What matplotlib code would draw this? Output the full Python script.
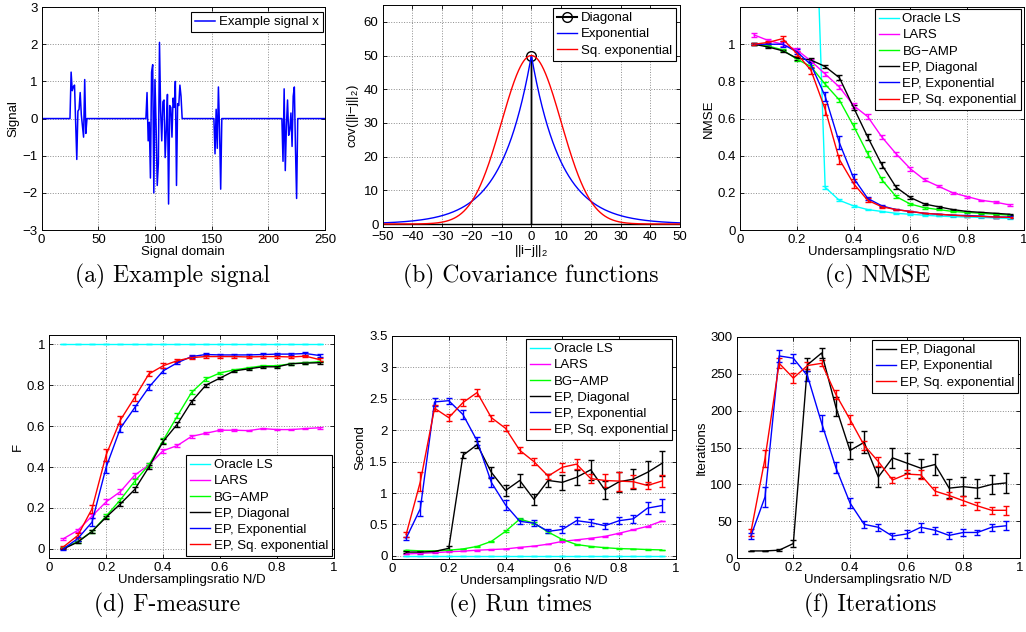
import numpy as np
import matplotlib
matplotlib.use('Agg')
import matplotlib.pyplot as plt
from matplotlib.ticker import FormatStrFormatter

plt.rcParams['font.family'] = ['Liberation Sans', 'DejaVu Sans']
plt.rcParams['font.size'] = 9.5
plt.rcParams['mathtext.fontset'] = 'custom'
plt.rcParams['mathtext.rm'] = 'Liberation Sans'
plt.rcParams['mathtext.it'] = 'Liberation Sans:italic'

# (a) example signal: nonzero blocks (start index, values)
sig_len = 250
blk_start = [26, 93, 153, 213]
blk_vals = [
    [1.25, 0.75, 0.85, 0.9, -0.1, -1.1, 0.2, 0.25, 0.7, 0.1, -0.2, -0.5, 1.05, -0.4],
    [0.7, -0.6, -0.1, -1.6, 1.25, 1.45, -2.0, 1.05, -0.2, -1.8, -1.2, 2.05, 0.2, -0.6,
     0.45, 0.5, -1.05, -0.3, 0.65, -2.3, 0.35, 0.3, -0.5, 0.55, 0.3, 1.0, -1.8, 0.4,
     0.35, 0.9, 0.6],
    [-0.95, 0.25, -0.8, 0.85, -0.3, -1.9],
    [-1.15, 0.8, -1.4, -0.2, 0.5, -0.45, -0.3, 0.15, -0.75, 0.6, 0.85, -0.8, -2.15],
]

# (b) covariance functions
cov_var = 50.0
cov_len = 10.0

# undersampling ratios
ratio = np.arange(1, 20) * 0.05

# (c) NMSE
nmse_oracle = [20, 12, 8, 5, 2.5, 0.23, 0.16, 0.13, 0.11, 0.10, 0.09, 0.085, 0.08, 0.075, 0.072, 0.07, 0.068, 0.065, 0.063]
nmse_lars = [1.05, 1.02, 1.0, 0.97, 0.91, 0.84, 0.77, 0.67, 0.61, 0.50, 0.41, 0.33, 0.27, 0.235, 0.20, 0.18, 0.16, 0.15, 0.135]
nmse_amp = [1.0, 0.99, 0.97, 0.92, 0.88, 0.785, 0.70, 0.56, 0.41, 0.27, 0.18, 0.14, 0.12, 0.11, 0.10, 0.095, 0.09, 0.085, 0.08]
nmse_diag = [1.0, 0.985, 0.965, 0.925, 0.915, 0.88, 0.82, 0.66, 0.50, 0.35, 0.23, 0.175, 0.14, 0.125, 0.11, 0.10, 0.095, 0.09, 0.085]
nmse_exp = [1.0, 1.0, 1.0, 0.96, 0.89, 0.72, 0.47, 0.28, 0.17, 0.13, 0.11, 0.10, 0.09, 0.085, 0.08, 0.078, 0.075, 0.07, 0.07]
nmse_sqe = [1.0, 1.01, 1.03, 0.95, 0.86, 0.65, 0.38, 0.25, 0.16, 0.125, 0.11, 0.10, 0.09, 0.085, 0.08, 0.075, 0.073, 0.07, 0.068]
nmse_oracle_err = [0, 0, 0, 0, 0, 0.008, 0.005, 0.004, 0.003, 0.003, 0.003, 0.003, 0.002, 0.002, 0.002, 0.002, 0.002, 0.002, 0.002]
nmse_lars_err = [0.01, 0.01, 0.01, 0.01, 0.01, 0.01, 0.01, 0.012, 0.012, 0.012, 0.012, 0.01, 0.008, 0.006, 0.005, 0.005, 0.004, 0.004, 0.004]
nmse_amp_err = [0.005, 0.005, 0.005, 0.008, 0.01, 0.01, 0.012, 0.014, 0.015, 0.014, 0.01, 0.006, 0.005, 0.004, 0.004, 0.003, 0.003, 0.003, 0.003]
nmse_diag_err = [0.005, 0.005, 0.005, 0.008, 0.01, 0.01, 0.012, 0.014, 0.015, 0.014, 0.01, 0.006, 0.005, 0.004, 0.004, 0.003, 0.003, 0.003, 0.003]
nmse_exp_err = [0.005, 0.008, 0.015, 0.015, 0.02, 0.025, 0.035, 0.02, 0.01, 0.006, 0.004, 0.003, 0.003, 0.003, 0.003, 0.003, 0.003, 0.003, 0.003]
nmse_sqe_err = [0.005, 0.01, 0.015, 0.015, 0.02, 0.03, 0.025, 0.025, 0.01, 0.006, 0.004, 0.003, 0.003, 0.003, 0.003, 0.003, 0.003, 0.003, 0.003]

# (d) F-measure
f_oracle = [1.0] * 19
f_lars = [0.05, 0.09, 0.16, 0.23, 0.28, 0.36, 0.41, 0.48, 0.505, 0.55, 0.565, 0.58, 0.58, 0.578, 0.588, 0.583, 0.583, 0.588, 0.592]
f_amp = [0.005, 0.035, 0.085, 0.16, 0.24, 0.33, 0.41, 0.53, 0.65, 0.765, 0.83, 0.86, 0.875, 0.885, 0.895, 0.895, 0.905, 0.91, 0.915]
f_diag = [0.0, 0.033, 0.085, 0.155, 0.22, 0.29, 0.40, 0.525, 0.61, 0.72, 0.80, 0.835, 0.87, 0.88, 0.89, 0.89, 0.905, 0.908, 0.91]
f_exp = [0.0, 0.05, 0.13, 0.40, 0.59, 0.69, 0.79, 0.87, 0.91, 0.94, 0.95, 0.948, 0.948, 0.948, 0.95, 0.952, 0.952, 0.955, 0.945]
f_sqe = [0.01, 0.065, 0.195, 0.46, 0.63, 0.74, 0.855, 0.895, 0.92, 0.935, 0.94, 0.94, 0.94, 0.938, 0.94, 0.94, 0.938, 0.942, 0.925]
f_oracle_err = [0] * 19
f_lars_err = [0.005, 0.008, 0.01, 0.012, 0.012, 0.012, 0.01, 0.01, 0.008, 0.006, 0.005, 0.004, 0.004, 0.004, 0.004, 0.004, 0.004, 0.004, 0.004]
f_amp_err = [0.003, 0.005, 0.006, 0.008, 0.01, 0.012, 0.012, 0.012, 0.012, 0.01, 0.008, 0.006, 0.005, 0.004, 0.004, 0.004, 0.004, 0.004, 0.004]
f_diag_err = [0.003, 0.005, 0.006, 0.008, 0.01, 0.012, 0.012, 0.012, 0.012, 0.01, 0.008, 0.006, 0.005, 0.004, 0.004, 0.004, 0.004, 0.004, 0.004]
f_exp_err = [0.004, 0.01, 0.02, 0.03, 0.02, 0.015, 0.015, 0.012, 0.008, 0.006, 0.006, 0.005, 0.005, 0.005, 0.005, 0.005, 0.005, 0.005, 0.006]
f_sqe_err = [0.006, 0.012, 0.02, 0.03, 0.02, 0.015, 0.012, 0.012, 0.008, 0.006, 0.006, 0.005, 0.005, 0.005, 0.005, 0.005, 0.005, 0.005, 0.008]

# (e) run times [s]
t_oracle = [0.005] * 19
t_lars = [0.03, 0.04, 0.05, 0.065, 0.075, 0.09, 0.10, 0.11, 0.135, 0.155, 0.186, 0.23, 0.255, 0.28, 0.31, 0.36, 0.415, 0.47, 0.553]
t_amp = [0.09, 0.08, 0.08, 0.09, 0.11, 0.15, 0.23, 0.39, 0.585, 0.52, 0.38, 0.26, 0.18, 0.15, 0.13, 0.115, 0.11, 0.10, 0.095]
t_diag = [0.06, 0.06, 0.07, 0.12, 1.60, 1.77, 1.33, 1.04, 1.20, 0.90, 1.20, 1.17, 1.25, 1.37, 1.05, 1.18, 1.22, 1.33, 1.47]
t_exp = [0.28, 0.75, 2.45, 2.47, 2.25, 1.83, 1.17, 0.81, 0.55, 0.52, 0.39, 0.42, 0.56, 0.53, 0.48, 0.56, 0.59, 0.76, 0.80]
t_sqe = [0.34, 1.18, 2.35, 2.20, 2.44, 2.60, 2.20, 2.03, 1.68, 1.50, 1.27, 1.41, 1.46, 1.23, 1.20, 1.19, 1.18, 1.12, 1.19]
t_oracle_err = [0] * 19
t_lars_err = [0.005] * 19
t_amp_err = [0.005, 0.005, 0.005, 0.005, 0.006, 0.008, 0.01, 0.015, 0.02, 0.02, 0.015, 0.01, 0.008, 0.006, 0.005, 0.005, 0.005, 0.005, 0.005]
t_diag_err = [0.01, 0.01, 0.01, 0.03, 0.05, 0.06, 0.09, 0.08, 0.11, 0.09, 0.1, 0.12, 0.12, 0.16, 0.14, 0.16, 0.16, 0.18, 0.2]
t_exp_err = [0.02, 0.12, 0.07, 0.05, 0.07, 0.06, 0.08, 0.08, 0.04, 0.05, 0.03, 0.05, 0.06, 0.06, 0.05, 0.06, 0.06, 0.09, 0.1]
t_sqe_err = [0.04, 0.15, 0.05, 0.06, 0.06, 0.05, 0.05, 0.05, 0.05, 0.05, 0.04, 0.07, 0.08, 0.07, 0.1, 0.15, 0.1, 0.06, 0.09]

# (f) iterations
it_diag = [10, 10, 11, 20, 262, 278, 205, 146, 157, 110, 136, 129, 122, 127, 95, 97, 95, 100, 102]
it_exp = [30, 83, 274, 271, 247, 183, 123, 75, 46, 42, 30, 33, 42, 38, 31, 35, 35, 42, 44]
it_sqe = [35, 135, 264, 244, 261, 264, 222, 188, 153, 131, 106, 114, 113, 91, 85, 78, 71, 65, 65]
it_diag_err = [0.5, 0.5, 1, 5, 9, 7, 13, 12, 15, 13, 14, 13, 13, 14, 13, 13, 13, 13, 13]
it_exp_err = [4, 14, 8, 6, 7, 11, 8, 7, 5, 5, 4, 5, 6, 5, 5, 5, 4, 5, 6]
it_sqe_err = [5, 12, 7, 7, 5, 4, 6, 6, 6, 6, 4, 5, 6, 5, 5, 6, 5, 5, 6]

method_names = ['Oracle LS', 'LARS', 'BG\u2212AMP', 'EP, Diagonal', 'EP, Exponential', 'EP, Sq. exponential']
method_colors = ['#00ffff', '#ff00ff', '#00ff00', 'k', '#0000ff', '#ff0000']


def style_axes(ax):
    ax.tick_params(direction='in', top=True, right=True, length=3, width=0.6, labelsize=9.5, pad=3)
    ax.grid(True, linestyle=':', color='0.55', linewidth=0.7)
    for s in ax.spines.values():
        s.set_linewidth(0.7)


def add_legend(ax, loc, anchor, handles=None, labels=None):
    kw = dict(loc=loc, bbox_to_anchor=anchor, fancybox=False, framealpha=1,
              edgecolor='k', fontsize=9.5, borderaxespad=0, handlelength=1.5,
              labelspacing=0.3, borderpad=0.3, handletextpad=0.3)
    if handles is not None:
        leg = ax.legend(handles, labels, **kw)
    else:
        leg = ax.legend(**kw)
    leg.get_frame().set_linewidth(0.8)


def plot_methods(ax, series, errs, colors):
    lines = []
    for y, e, c in zip(series, errs, colors):
        cont = ax.errorbar(ratio, y, yerr=e, color=c, lw=1.0, elinewidth=1.0, capsize=2, capthick=1.0)
        lines.append(cont[0])
    return lines


fig = plt.figure(figsize=(10.26, 6.32), dpi=100)

# (a)
ax = fig.add_axes([0.0406, 0.636, 0.2761, 0.3528])
sig = np.zeros(sig_len)
for st, v in zip(blk_start, blk_vals):
    sig[st - 1:st - 1 + len(v)] = v
ax.plot(np.arange(1, sig_len + 1), sig, color='#0000ff', lw=1.1, label='Example signal x')
ax.set_xlim(0, 250)
ax.set_ylim(-3, 3)
ax.set_xticks(np.arange(0, 251, 50))
ax.set_yticks(np.arange(-3, 4, 1))
ax.set_xlabel('Signal domain', labelpad=0)
ax.set_ylabel('Signal', labelpad=2)
style_axes(ax)
add_legend(ax, 'upper right', (0.993, 0.978))

# (b)
ax = fig.add_axes([0.373, 0.6413, 0.2898, 0.3508])
d = np.linspace(-50, 50, 1001)
ax.plot([-50, 0, 0, 0, 50], [0, 0, cov_var, 0, 0], color='k', lw=1.0)
ax.plot([0], [cov_var], 'o', mfc='none', mec='k', ms=7, mew=1.0)
ax.plot([], [], '-o', color='k', mfc='none', ms=7, label='Diagonal')
ax.plot(d, cov_var * np.exp(-np.abs(d) / cov_len), color='#0000ff', lw=1.0, label='Exponential')
ax.plot(d, cov_var * np.exp(-d ** 2 / (2 * cov_len ** 2)), color='#ff0000', lw=1.0, label='Sq. exponential')
ax.set_xlim(-50, 50)
ax.set_ylim(-0.8, 65)
ax.set_xticks(np.arange(-50, 51, 10))
ax.set_yticks(np.arange(0, 61, 10))
ax.set_xlabel('||i\u2212j||$\\mathregular{_2}$', labelpad=0)
ax.set_ylabel('cov(||i\u2212j||$\\mathregular{_2}$)', labelpad=2)
style_axes(ax)
add_legend(ax, 'upper right', (0.9865, 0.986))

# (c)
ax = fig.add_axes([0.7212, 0.636, 0.2768, 0.3528])
h = plot_methods(ax, [nmse_oracle, nmse_lars, nmse_amp, nmse_diag, nmse_exp, nmse_sqe],
                 [nmse_oracle_err, nmse_lars_err, nmse_amp_err, nmse_diag_err, nmse_exp_err, nmse_sqe_err],
                 method_colors)
ax.set_xlim(0, 1)
ax.set_ylim(0, 1.2)
ax.set_yticks(np.arange(0, 1.01, 0.2))
ax.set_xticks(np.arange(0, 1.01, 0.2))
ax.xaxis.set_major_formatter(FormatStrFormatter('%g'))
ax.yaxis.set_major_formatter(FormatStrFormatter('%g'))
ax.set_xlabel('Undersamplingsratio N/D', labelpad=0)
ax.set_ylabel('NMSE', labelpad=2)
style_axes(ax)
add_legend(ax, 'upper right', (0.989, 0.991), h, method_names)

# (d)
ax = fig.add_axes([0.048, 0.117, 0.2775, 0.3528])
h = plot_methods(ax, [f_oracle, f_lars, f_amp, f_diag, f_exp, f_sqe],
                 [f_oracle_err, f_lars_err, f_amp_err, f_diag_err, f_exp_err, f_sqe_err],
                 method_colors)
ax.set_xlim(0, 1)
ax.set_ylim(-0.045, 1.045)
ax.set_yticks(np.arange(0, 1.01, 0.2))
ax.set_xticks(np.arange(0, 1.01, 0.2))
ax.xaxis.set_major_formatter(FormatStrFormatter('%g'))
ax.yaxis.set_major_formatter(FormatStrFormatter('%g'))
ax.set_xlabel('Undersamplingsratio N/D', labelpad=0)
ax.set_ylabel('F', labelpad=2)
style_axes(ax)
add_legend(ax, 'lower right', (0.993, 0.009), h, method_names)

# (e)
ax = fig.add_axes([0.382, 0.116, 0.2768, 0.3524])
h = plot_methods(ax, [t_oracle, t_lars, t_amp, t_diag, t_exp, t_sqe],
                 [t_oracle_err, t_lars_err, t_amp_err, t_diag_err, t_exp_err, t_sqe_err],
                 method_colors)
ax.set_xlim(0, 1)
ax.set_ylim(-0.045, 3.5)
ax.set_yticks(np.arange(0, 3.51, 0.5))
ax.set_xticks(np.arange(0, 1.01, 0.2))
ax.xaxis.set_major_formatter(FormatStrFormatter('%g'))
ax.yaxis.set_major_formatter(FormatStrFormatter('%g'))
ax.set_xlabel('Undersamplingsratio N/D', labelpad=0)
ax.set_ylabel('Second', labelpad=2)
style_axes(ax)
add_legend(ax, 'upper right', (0.986, 0.9865), h, method_names)

# (f)
ax = fig.add_axes([0.718, 0.1166, 0.2761, 0.3506])
h = plot_methods(ax, [it_diag, it_exp, it_sqe], [it_diag_err, it_exp_err, it_sqe_err],
                 method_colors[3:])
ax.set_xlim(0, 1)
ax.set_ylim(0, 300)
ax.set_yticks(np.arange(0, 301, 50))
ax.set_xticks(np.arange(0, 1.01, 0.2))
ax.xaxis.set_major_formatter(FormatStrFormatter('%g'))
ax.set_xlabel('Undersamplingsratio N/D', labelpad=0)
ax.set_ylabel('Iterations', labelpad=2)
style_axes(ax)
add_legend(ax, 'upper right', (0.993, 0.985), h, method_names[3:])

# captions
captions = ['(a) Example signal', '(b) Covariance functions', '(c) NMSE',
            '(d) F-measure', '(e) Run times', '(f) Iterations']
cap_x = [172, 531, 878, 167, 520, 870]
cap_y = [276, 276, 276, 605, 605, 605]
for t, cx, cy in zip(captions, cap_x, cap_y):
    fig.text(cx / 1026, 1 - cy / 632, t, ha='center', va='center', fontsize=17, family='cmr10')

fig.savefig('out.png', dpi=100)
